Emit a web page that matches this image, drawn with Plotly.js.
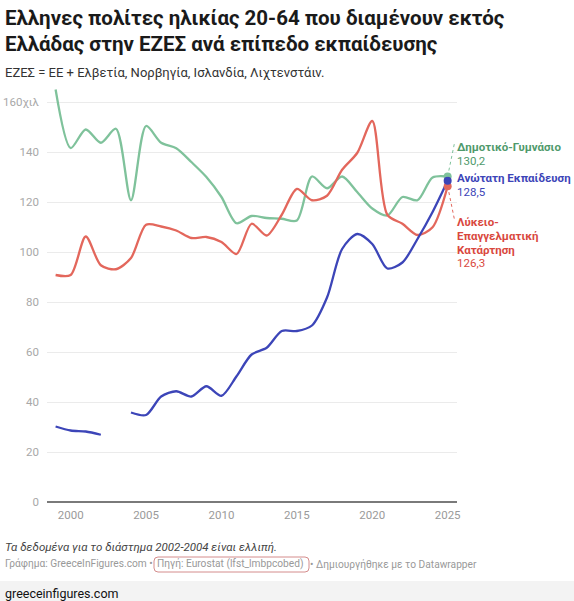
<!DOCTYPE html>
<html>
<head>
<meta charset="utf-8">
<script src="https://cdn.plot.ly/plotly-3.0.1.min.js"></script>
<style>
html,body{margin:0;padding:0;background:#fff;}
#chart{width:574px;height:601px;}
</style>
</head>
<body>
<div id="chart"></div>
<script>
// ---- data ----
const years = [1999,2000,2001,2002,2003,2004,2005,2006,2007,2008,2009,2010,2011,2012,2013,2014,2015,2016,2017,2018,2019,2020,2021,2022,2023,2024,2025];
const primarySecondary = [165,141.6,149,143.7,149.3,120.7,150.4,143.7,141.5,136,130,122,111.5,114.4,113.6,113.3,112.6,130.2,125.5,130.2,124,117.4,114.6,122,120.7,129.8,130.2];
const tertiary = [30.2,28.6,28.2,26.9,null,35.8,34.8,42.2,44.3,42.2,46.3,42.5,50.3,59,61.7,68.4,68.4,70.6,81.8,101.2,107.2,103.2,93.4,95.8,105.2,116,128.5];
const upperSecondary = [90.8,90.8,106.2,94.7,93.1,97.6,110.9,110.2,108.6,105.6,106,104,99.2,111.3,106.6,114.9,125.2,120.7,122.5,132.9,139.6,152.4,114.9,111.3,106.8,109.9,126.3];
const seriesNames = ["Δημοτικό-Γυμνάσιο","Ανώτατη Εκπαίδευση","Λύκειο-Επαγγελματική Κατάρτηση"];
const xTicks = [2000,2005,2010,2015,2020,2025];
const yTicks = [0,20,40,60,80,100,120,140,160];
const yTickLabels = ["0","20","40","60","80","100","120","140","160χιλ"];
const titleLines = ["Ελληνες πολίτες ηλικίας 20-64 που διαμένουν εκτός","Ελλάδας στην ΕΖΕΣ ανά επίπεδο εκπαίδευσης"];

// ---- layout helpers ----
const L=47, R=457, T=87, B=502;
const px = v => (v-L)/(R-L);
const py = v => (B-v)/(B-T);

const cGreen='#7fc29b', cGreenT='#4f9a6b';
const cBlue='#3c45b8', cBlueT='#3c45b8';
const cRed='#e3675c', cRedT='#d9483e';

const last = a => a[a.length-1];
const lastYear = last(years);
const fmt = v => v.toFixed(1).replace('.', ',');

function line(y, color, name){
  return {x:years, y:y, type:'scatter', mode:'lines', name:name,
    line:{color:color, width:2.3, shape:'spline', smoothing:0.8},
    connectgaps:false, hoverinfo:'skip'};
}
function dot(y, color){
  return {x:[lastYear], y:[last(y)], type:'scatter', mode:'markers',
    marker:{color:color, size:8}, hoverinfo:'skip'};
}

const traces = [
  line(primarySecondary, cGreen, seriesNames[0]),
  line(upperSecondary, cRed, seriesNames[2]),
  line(tertiary, cBlue, seriesNames[1]),
  dot(primarySecondary, cGreen),
  dot(upperSecondary, cRed),
  dot(tertiary, cBlue)
];

const F = 'Roboto, "Noto Sans", sans-serif';
function ann(text, x, y, size, color, extra){
  return Object.assign({text:text, xref:'paper', yref:'paper', x:px(x), y:py(y),
    xanchor:'left', yanchor:'middle', showarrow:false,
    font:{family:F, size:size, color:color}}, extra||{});
}

const annotations = [
  ann('<b>'+titleLines[0]+'</b>', 3, 18, 20.5, '#1a1a1a'),
  ann('<b>'+titleLines[1]+'</b>', 3, 44, 20.5, '#1a1a1a'),
  ann('ΕΖΕΣ = ΕΕ + Ελβετία, Νορβηγία, Ισλανδία, Λιχτενστάιν.', 3, 72, 13, '#333'),
  ann('<b>'+seriesNames[0]+'</b>', 455, 147, 11.5, cGreenT),
  ann(fmt(last(primarySecondary)), 455, 161, 11.5, cGreenT),
  ann('<b>'+seriesNames[1]+'</b>', 455, 178, 11.5, cBlueT),
  ann(fmt(last(tertiary)), 455, 192, 11.5, cBlueT),
  ann('<b>Λύκειο-</b>', 455, 222, 11.5, cRedT),
  ann('<b>Επαγγελματική</b>', 455, 236, 11.5, cRedT),
  ann('<b>Κατάρτηση</b>', 455, 249.5, 11.5, cRedT),
  ann(fmt(last(upperSecondary)), 455, 263, 11.5, cRedT),
  ann('<i>Τα δεδομένα για το διάστημα 2002-2004 είναι ελλιπή.</i>', 3, 547, 11.5, '#444'),
  ann('Γράφημα: GreeceInFigures.com •', 3, 564, 10.2, '#999'),
  ann('Πηγή: Eurostat (lfst_lmbpcobed)', 155, 564, 10.2, '#999'),
  ann('• Δημιουργήθηκε με το Datawrapper', 308, 564, 10.2, '#999'),
  ann('greeceinfigures.com', 3, 593, 12.5, '#111')
];

// rounded source box
function rrect(x0,y0,x1,y1,r){
  const X=px, Y=py;
  return 'M'+X(x0+r)+','+Y(y0)+' L'+X(x1-r)+','+Y(y0)+' Q'+X(x1)+','+Y(y0)+' '+X(x1)+','+Y(y0+r)+
    ' L'+X(x1)+','+Y(y1-r)+' Q'+X(x1)+','+Y(y1)+' '+X(x1-r)+','+Y(y1)+
    ' L'+X(x0+r)+','+Y(y1)+' Q'+X(x0)+','+Y(y1)+' '+X(x0)+','+Y(y1-r)+
    ' L'+X(x0)+','+Y(y0+r)+' Q'+X(x0)+','+Y(y0)+' '+X(x0+r)+','+Y(y0)+' Z';
}

const shapes = [
  {type:'rect', xref:'paper', yref:'paper', x0:px(0), x1:px(574), y0:py(601), y1:py(581),
   fillcolor:'#f3f3f3', line:{width:0}, layer:'below'},
  {type:'path', xref:'paper', yref:'paper', path:rrect(154,557,309,572,4),
   line:{color:'#d48c8c', width:1}},
  {type:'line', xref:'x', yref:'y', x0:lastYear, y0:last(primarySecondary), x1:lastYear+0.45, y1:143.5,
   line:{color:cGreen, width:1, dash:'dot'}},
  {type:'line', xref:'x', yref:'y', x0:lastYear, y0:last(upperSecondary), x1:lastYear+0.45, y1:113,
   line:{color:cRed, width:1, dash:'dot'}}
];

const layout = {
  width:574, height:601,
  margin:{l:L, r:574-R, t:T, b:601-B, pad:0},
  paper_bgcolor:'#fff', plot_bgcolor:'#fff',
  showlegend:false,
  font:{family:F},
  xaxis:{range:[1998.43,2025.62], tickvals:xTicks, ticktext:xTicks.map(String),
    showgrid:false, zeroline:false, showline:false, ticks:'', ticklabelstandoff:4,
    tickfont:{family:F, size:11.5, color:'#9a9a9a'}, fixedrange:true},
  yaxis:{range:[0,166], tickvals:yTicks, ticktext:yTickLabels,
    showgrid:true, gridcolor:'#ebebeb', gridwidth:1,
    zeroline:true, zerolinecolor:'#7a7a7a', zerolinewidth:2,
    showline:false, ticks:'', ticklabelstandoff:7,
    tickfont:{family:F, size:11.5, color:'#a8a8a8'}, fixedrange:true},
  annotations:annotations,
  shapes:shapes
};

Plotly.newPlot('chart', traces, layout, {staticPlot:true, displayModeBar:false});
</script>
</body>
</html>
